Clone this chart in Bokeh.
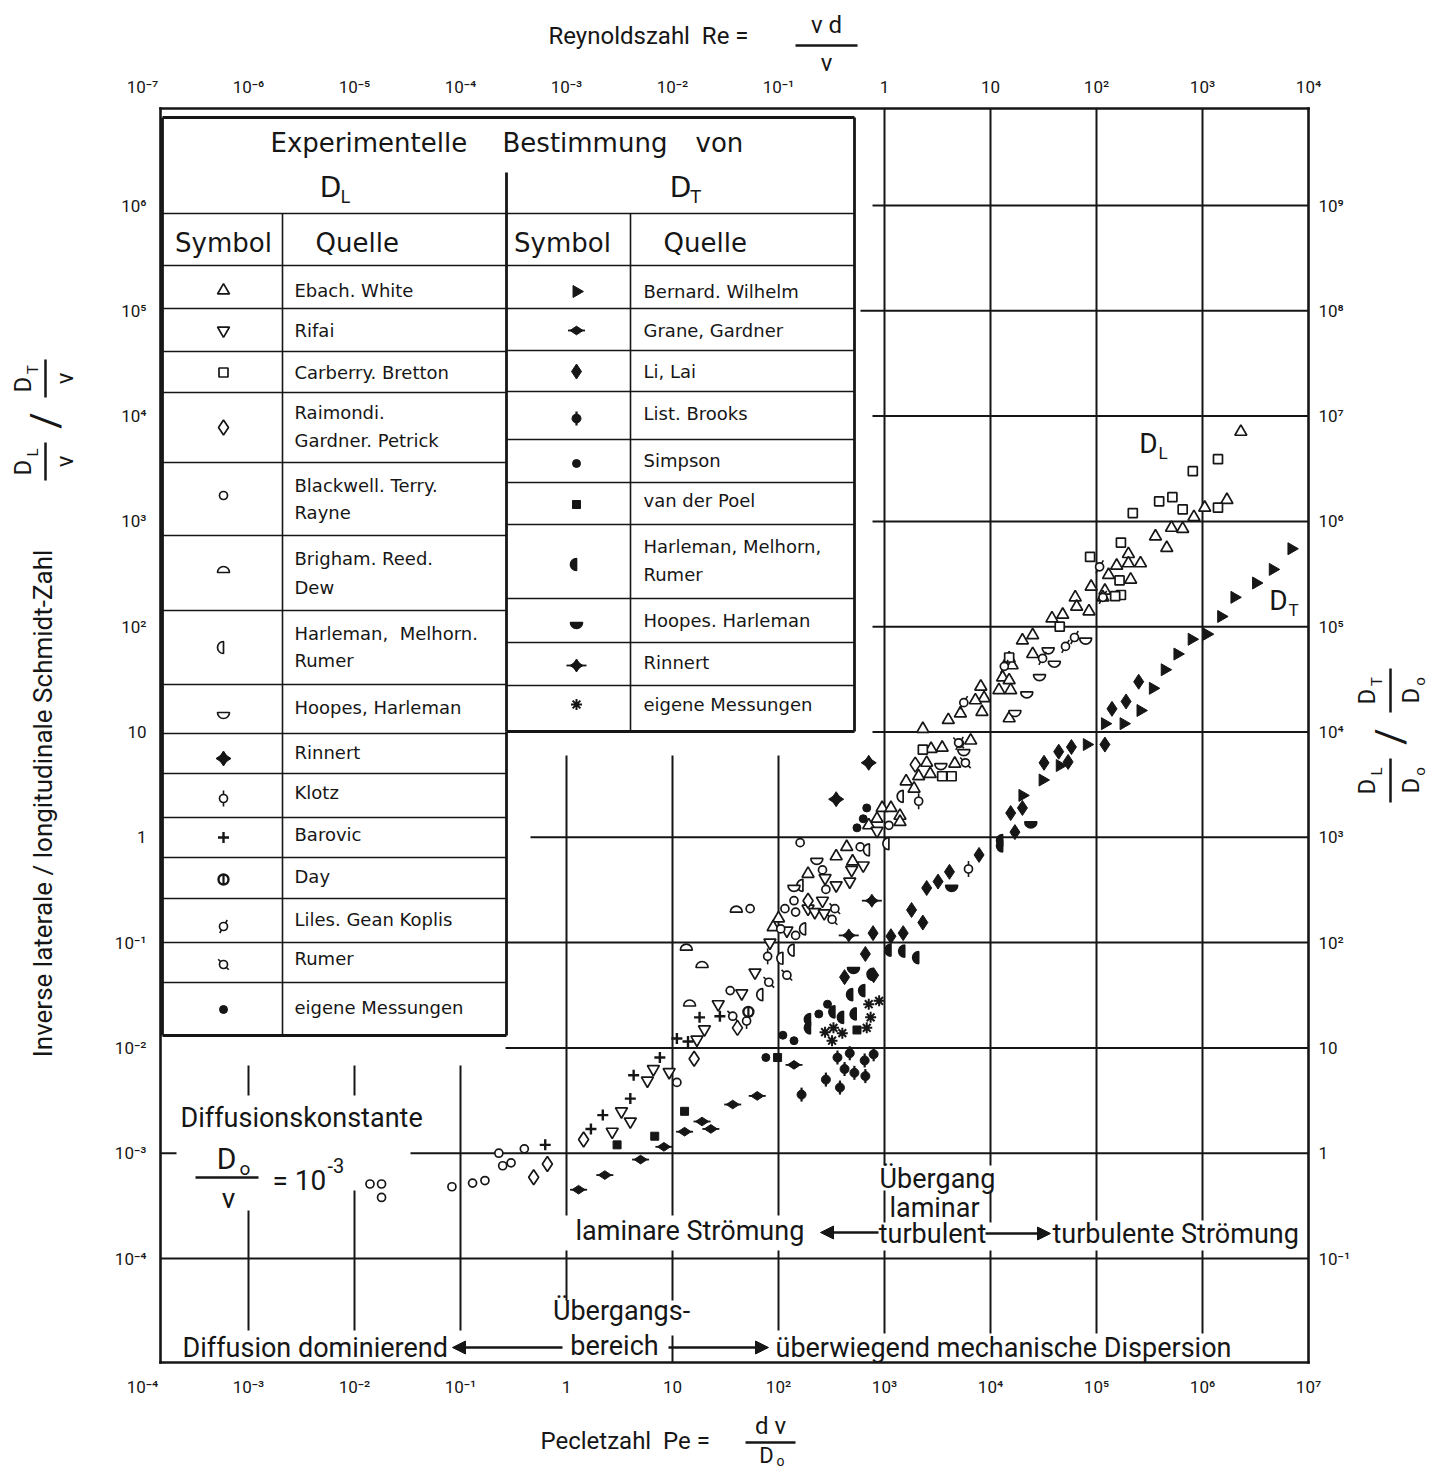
import numpy as np
from bokeh.plotting import figure
from bokeh.models import Range1d, LogAxis, FixedTicker, Label, Arrow, NormalHead
from bokeh.embed import file_html
from bokeh.resources import INLINE

# ---------------- data: Peclet number Pe, ratio D/nu ----------------
# D_L series
EBACH_PE = [2.3e6, 1.7e6, 1.05e6, 8.3e5, 5.1e5, 6.5e5, 3.6e5, 4.6e5, 2.0e5, 1.55e5, 2.0e5, 2.6e5,
            1.3e5, 2.1e5, 1.2e5, 8.9e4, 1.15e5, 6.3e4, 6.5e4, 8.5e4, 4.8e4, 3.8e4, 2.5e4, 2.0e4,
            2.5e4, 1.5e4, 1.6e4, 1.3e4, 1.5e4, 1.2e4, 1.55e4, 8.1e3, 8.7e3, 7.2e3, 8.3e3, 5.2e3,
            4.0e3, 2.3e3, 1.5e4, 3.5e3, 2.75e3, 6.5e3, 2.5e3, 4.6e3, 1.6e3, 2.1e3, 2.7e3, 1.9e3,
            9.5e2, 1.15e3, 1.4e3, 1.4e3, 8.5e2, 7.1e2, 4.4e2, 3.5e2, 5.0e2, 1.9e2, 1.0e2, 89]
EBACH_Y = [7.1e3, 1.6e3, 1.35e3, 1.1e3, 8.7e2, 8.5e2, 7.2e2, 5.6e2, 4.9e2, 3.8e2, 4.0e2, 4.0e2,
           3.1e2, 2.8e2, 2.2e2, 2.4e2, 1.9e2, 1.9e2, 1.55e2, 1.4e2, 1.3e2, 1.2e2, 83, 74,
           55, 50, 43, 33, 31, 25, 25, 27, 21, 20, 15.5, 15,
           13, 10.7, 13.5, 7.1, 6.9, 8.3, 5.1, 5.0, 3.4, 3.8, 4.0, 2.9,
           1.9, 1.9, 1.6, 1.4, 1.5, 1.3, 0.81, 0.66, 0.59, 0.45, 0.17, 0.14]
RIFAI_PE = [8.5e2, 6.3e2, 4.9e2, 4.7e2, 2.75e2, 3.5e2, 1.9e2, 2.6e2, 2.2e2, 2.7e2, 1.2e2, 83,
            60, 45, 27, 20, 17, 6.6, 5.8, 9.3, 3.3, 4.0, 2.7]
RIFAI_Y = [1.15, 0.54, 0.49, 0.38, 0.41, 0.35, 0.21, 0.25, 0.195, 0.19, 0.13, 0.10,
           0.052, 0.033, 0.026, 0.015, 0.012, 6.3e-3, 4.9e-3, 5.9e-3, 2.5e-3, 2.0e-3, 1.6e-3]
CARBERRY_PE = [1.4e6, 8.1e5, 3.9e5, 5.2e5, 6.5e5, 1.4e6, 2.2e5, 1.7e5, 8.7e4, 1.65e5, 1.7e5,
               1.5e5, 4.5e4, 1.5e4, 2.3e3, 3.5e3, 4.3e3]
CARBERRY_Y = [3.9e3, 3.0e3, 1.55e3, 1.7e3, 1.3e3, 1.35e3, 1.2e3, 6.3e2, 4.6e2, 2.75e2, 2.0e2,
              1.95e2, 1.0e2, 51, 6.8, 3.8, 3.8]
RAIMONDI_PE = [1.95e3, 1.9e2, 41, 16, 0.49, 0.66, 1.45]
RAIMONDI_Y = [4.9, 0.25, 0.0155, 7.9e-3, 5.9e-4, 7.9e-4, 1.35e-3]
BLACKWELL_PE = [1.6e2, 5.9e2, 2.6e2, 2.8e2, 1.4e2, 1.15e2, 1.45e2, 1.05e2, 1.45e2, 54, 35, 1.1e3,
                11, 0.083, 0.13, 0.17, 0.25, 0.30, 0.23, 0.40, 0.014, 0.018, 0.018]
BLACKWELL_Y = [0.89, 0.81, 0.49, 0.32, 0.25, 0.21, 0.195, 0.135, 0.117, 0.21, 0.035, 1.3,
               4.7e-3, 4.8e-4, 5.2e-4, 5.5e-4, 7.6e-4, 8.1e-4, 1.0e-3, 1.1e-3, 5.1e-4, 5.1e-4, 3.8e-4]
BRIGHAM_PE = [40, 13.5, 19, 14.5]
BRIGHAM_Y = [0.195, 0.085, 0.058, 0.025]
HARLEMAN_L_PE = [1.5e3, 1.1e3, 7.2e2, 1.8e2, 1.1e2, 1.4e2, 71, 1.7e2]
HARLEMAN_L_Y = [2.45, 0.87, 0.76, 0.135, 0.071, 0.085, 0.032, 0.35]
HOOPES_L_PE = [3.5e4, 4.0e4, 2.9e4, 2.2e4, 1.7e4, 7.9e4, 5.6e3, 3.4e3, 2.3e2, 1.4e2]
HOOPES_L_Y = [63, 47, 35, 24, 16, 78, 6.8, 5.0, 0.63, 0.35]
RINNERT_L_PE = [7.1e2, 3.5e2]
RINNERT_L_Y = [5.1, 2.3]
KLOTZ_PE = [2.1e3, 79, 50, 6.2e3]
KLOTZ_Y = [2.2, 0.074, 0.018, 0.50]
BAROVIC_PE = [7.6, 4.3, 4.0, 2.2, 1.7, 11, 14, 18, 28, 0.63]
BAROVIC_Y = [8.1e-3, 5.5e-3, 3.3e-3, 2.3e-3, 1.7e-3, 0.0123, 0.0115, 0.0195, 0.020, 1.2e-3]
DAY_PE = [52]
DAY_Y = [0.022]
LILES_PE = [5.1e4, 6.2e4, 3.1e4, 1.35e4, 5.6e3, 1.07e5, 5.1e3, 1.15e5]
LILES_Y = [65, 79, 50, 42, 19, 3.7e2, 7.8, 1.9e2]
RUMER_PE = [5.0e3, 5.8e3, 3.4e2, 3.2e2, 1.2e2, 81, 37]
RUMER_Y = [7.9, 5.1, 0.21, 0.166, 0.049, 0.042, 0.020]
EIGENE_L_PE = [6.8e2, 6.3e2, 5.5e2]
EIGENE_L_Y = [1.9, 1.5, 1.23]

# D_T series
BERNARD_PE = [6.9e6, 4.6e6, 3.2e6, 2.0e6, 1.5e6, 1.1e6, 7.9e5, 5.8e5, 4.4e5, 3.4e5, 2.6e5, 1.8e5,
              1.2e5, 8.1e4, 4.5e4, 3.1e4, 2.0e4]
BERNARD_Y = [5.5e2, 3.5e2, 2.6e2, 1.9e2, 1.25e2, 85, 76, 55, 39, 26, 16, 12, 12, 7.6, 4.8, 3.5, 2.5]
GRANE_PE = [1.4e2, 63, 37, 19, 23, 13, 1.3, 2.3, 5.0, 8.3]
GRANE_Y = [6.9e-3, 3.5e-3, 2.9e-3, 2.0e-3, 1.7e-3, 1.6e-3, 4.5e-4, 6.2e-4, 8.7e-4, 1.15e-3]
LILAI_PE = [2.5e5, 1.9e5, 1.4e5, 1.2e5, 5.8e4, 4.4e4, 3.2e4, 5.4e4, 1.55e4, 2.0e4, 1.7e4, 7.8e3,
            7.8e2, 1.15e3, 1.5e3, 1.8e3, 2.3e3, 2.5e3, 3.2e3, 4.1e3, 6.6e2, 4.2e2, 7.9e2]
LILAI_Y = [30, 19.5, 16.6, 7.6, 7.2, 6.5, 5.1, 5.2, 1.7, 1.9, 1.12, 0.68,
           0.123, 0.115, 0.123, 0.204, 0.155, 0.33, 0.38, 0.47, 0.078, 0.047, 0.049]
LIST_PE = [3.6e2, 4.7e2, 6.5e2, 7.9e2, 4.2e2, 5.2e2, 6.6e2, 2.8e2, 3.8e2, 1.65e2]
LIST_Y = [8.1e-3, 8.9e-3, 7.6e-3, 8.7e-3, 6.3e-3, 5.8e-3, 5.4e-3, 5.0e-3, 4.2e-3, 3.6e-3]
SIMPSON_PE = [76, 1.1e2, 1.4e2, 2.9e2, 2.4e2]
SIMPSON_Y = [8.1e-3, 0.0132, 0.0117, 0.026, 0.021]
POEL_PE = [98, 13, 5.5e2, 3.0, 6.8]
POEL_Y = [8.1e-3, 2.5e-3, 0.0148, 1.2e-3, 1.45e-3]
HARLEMAN_T_PE = [1.15e3, 1.55e3, 2.1e3, 7.8e2, 6.5e2, 5.0e2, 5.4e2, 4.1e2, 3.4e2, 2.0e2, 2.0e2, 1.3e4, 1.3e4]
HARLEMAN_T_Y = [0.085, 0.083, 0.072, 0.050, 0.035, 0.032, 0.021, 0.0195, 0.022, 0.0186, 0.0155, 0.83, 0.93]
HOOPES_T_PE = [4.3e3, 5.1e2, 2.4e4]
HOOPES_T_Y = [0.35, 0.058, 1.4]
RINNERT_T_PE = [7.6e2, 4.6e2]
RINNERT_T_Y = [0.25, 0.117]
EIGENE_T_PE = [8.9e2, 7.1e2, 7.4e2, 6.8e2, 3.3e2, 4.0e2, 2.75e2, 3.2e2]
EIGENE_T_Y = [0.028, 0.026, 0.0195, 0.0155, 0.0155, 0.0138, 0.0141, 0.0117]

# axis decades
X_DECADES = list(range(-4, 8))     # Pe 10^-4 .. 10^7
Y_DECADES = list(range(-4, 7))     # D/nu 10^-4 .. 10^6
SCHMIDT_EXP = 3                    # Re = Pe / 10^3, D/Do = (D/nu) * 10^3

# legend table contents
DL_ROWS = [
    (["Ebach. White"], "tri_up"),
    (["Rifai"], "tri_down"),
    (["Carberry. Bretton"], "square"),
    (["Raimondi.", "Gardner. Petrick"], "diamond"),
    (["Blackwell. Terry.", "Rayne"], "circle"),
    (["Brigham. Reed.", "Dew"], "dome"),
    (["Harleman,\u00a0\u00a0Melhorn.", "Rumer"], "harl"),
    (["Hoopes, Harleman"], "bowl"),
    (["Rinnert"], "star4"),
    (["Klotz"], "klotz"),
    (["Barovic"], "plus"),
    (["Day"], "day"),
    (["Liles. Gean Koplis"], "liles"),
    (["Rumer"], "rumer"),
    (["eigene Messungen"], "dot"),
]
DT_ROWS = [
    (["Bernard. Wilhelm"], "tri_right"),
    (["Grane, Gardner"], "grane"),
    (["Li, Lai"], "lilai"),
    (["List. Brooks"], "list"),
    (["Simpson"], "dot"),
    (["van der Poel"], "poel"),
    (["Harleman, Melhorn,", "Rumer"], "harl_f"),
    (["Hoopes. Harleman"], "hoopes_f"),
    (["Rinnert"], "rinnert_t"),
    (["eigene Messungen"], "asterisk"),
]

SERIES = [
    (EBACH_PE, EBACH_Y, "tri_up"), (RIFAI_PE, RIFAI_Y, "tri_down"),
    (CARBERRY_PE, CARBERRY_Y, "square"), (RAIMONDI_PE, RAIMONDI_Y, "diamond"),
    (BLACKWELL_PE, BLACKWELL_Y, "circle"), (BRIGHAM_PE, BRIGHAM_Y, "dome"),
    (HARLEMAN_L_PE, HARLEMAN_L_Y, "harl"), (HOOPES_L_PE, HOOPES_L_Y, "bowl"),
    (RINNERT_L_PE, RINNERT_L_Y, "star4"), (KLOTZ_PE, KLOTZ_Y, "klotz"),
    (BAROVIC_PE, BAROVIC_Y, "plus"), (DAY_PE, DAY_Y, "day"),
    (LILES_PE, LILES_Y, "liles"), (RUMER_PE, RUMER_Y, "rumer"),
    (EIGENE_L_PE, EIGENE_L_Y, "dot"),
    (BERNARD_PE, BERNARD_Y, "tri_right"), (GRANE_PE, GRANE_Y, "grane"),
    (LILAI_PE, LILAI_Y, "lilai"), (LIST_PE, LIST_Y, "list"),
    (SIMPSON_PE, SIMPSON_Y, "dot"), (POEL_PE, POEL_Y, "poel"),
    (HARLEMAN_T_PE, HARLEMAN_T_Y, "harl_f"), (HOOPES_T_PE, HOOPES_T_Y, "hoopes_f"),
    (RINNERT_T_PE, RINNERT_T_Y, "rinnert_t"), (EIGENE_T_PE, EIGENE_T_Y, "asterisk"),
]

# ---------------- layout helpers (pixel -> data) ----------------
INK = "#161616"
W, H = 1434, 1472
PX_DEC = 106.0
PY_DEC = 105.3


def X(px):
    return 10 ** ((px - 248.0) / PX_DEC - 3.0)


def Y(py):
    return 10 ** (6.0 - (py - 205.0) / PY_DEC)


BOX_L, BOX_R, BOX_T, BOX_B = 160, 1308, 108, 1362

p = figure(frame_width=W, frame_height=H, x_axis_type="log", y_axis_type="log",
           x_range=Range1d(X(0), X(W)), y_range=Range1d(Y(H), Y(0)),
           output_backend="svg", toolbar_location=None, min_border=0)
p.xgrid.visible = False
p.ygrid.visible = False
p.outline_line_color = None
p.background_fill_color = "white"
p.border_fill_color = "white"

SUP = str.maketrans("-0123456789", "\u207b\u2070\u00b9\u00b2\u00b3\u2074\u2075\u2076\u2077\u2078\u2079")


def pow_label(k):
    if k == 0:
        return "1"
    if k == 1:
        return "10"
    return "10" + str(k).translate(SUP)


def style_axis(ax, standoff):
    ax.axis_line_color = None
    ax.major_tick_line_color = None
    ax.minor_tick_line_color = None
    ax.major_label_text_font = "Roboto"
    ax.major_label_text_font_size = "17px"
    ax.major_label_text_color = INK
    ax.major_label_standoff = standoff


xt = [10.0 ** k for k in X_DECADES]
yt = [10.0 ** k for k in Y_DECADES]

bx = p.xaxis[0]
bx.ticker = FixedTicker(ticks=xt, minor_ticks=[])
bx.major_label_overrides = {10.0 ** k: pow_label(k) for k in X_DECADES}
bx.fixed_location = Y(BOX_B)
style_axis(bx, 8)

ly = p.yaxis[0]
ly.ticker = FixedTicker(ticks=yt, minor_ticks=[])
ly.major_label_overrides = {10.0 ** k: pow_label(k) for k in Y_DECADES}
ly.fixed_location = X(BOX_L)
style_axis(ly, 8)

tx = LogAxis(ticker=FixedTicker(ticks=xt, minor_ticks=[]), fixed_location=Y(BOX_T),
             major_label_overrides={10.0 ** k: pow_label(k - SCHMIDT_EXP) for k in X_DECADES})
style_axis(tx, 6)
p.add_layout(tx, "above")

ry = LogAxis(ticker=FixedTicker(ticks=yt, minor_ticks=[]), fixed_location=X(BOX_R),
             major_label_overrides={10.0 ** k: pow_label(k + SCHMIDT_EXP) for k in Y_DECADES})
style_axis(ry, 4)
p.add_layout(ry, "right")


def lab(px, py, text, size, font="Roboto", align="left", baseline="middle", angle=0.0, style="normal"):
    p.add_layout(Label(x=X(px), y=Y(py), text=text, text_font=font, text_font_size=f"{size}px",
                       text_align=align, text_baseline=baseline, angle=angle,
                       text_color=INK, text_font_style=style))


# ---------------- grid segments (partial, as in the original) ----------------
V_SEGS = {
    -3: [(1065, 1095), (1210, 1330)],
    -2: [(1065, 1095), (1190, 1330)],
    -1: [(1065, 1330)],
    0: [(755, 1215), (1250, 1300)],
    1: [(755, 1215), (1250, 1300), (1335, 1362)],
    2: [(755, 1215), (1250, 1330)],
    3: [(108, 1165), (1190, 1222), (1250, 1333)],
    4: [(108, 1165), (1190, 1222), (1250, 1333)],
    5: [(108, 1220), (1250, 1333)],
    6: [(108, 1220), (1250, 1333)],
}
H_SEGS = {6: [(872, 1308)], 5: [(860, 1308)], 4: [(872, 1308)], 3: [(872, 1308)],
          2: [(872, 1308)], 1: [(872, 1308)], 0: [(530, 1308)], -1: [(505, 1308)],
          -2: [(505, 1308)], -3: [(160, 176), (410, 1308)], -4: [(160, 1308)]}
gx0, gy0, gx1, gy1 = [], [], [], []
for k, segs in V_SEGS.items():
    for a, b in segs:
        gx0.append(10.0 ** k); gx1.append(10.0 ** k); gy0.append(Y(a)); gy1.append(Y(b))
for k, segs in H_SEGS.items():
    for a, b in segs:
        gx0.append(X(a)); gx1.append(X(b)); gy0.append(10.0 ** k); gy1.append(10.0 ** k)
p.segment(gx0, gy0, gx1, gy1, line_color=INK, line_width=2)

# plot box
p.segment([X(BOX_L), X(BOX_R), X(BOX_R), X(BOX_L)], [Y(BOX_T), Y(BOX_T), Y(BOX_B), Y(BOX_B)],
          [X(BOX_R), X(BOX_R), X(BOX_L), X(BOX_L)], [Y(BOX_T), Y(BOX_B), Y(BOX_B), Y(BOX_T)],
          line_color=INK, line_width=2.6, line_cap="square")


# ---------------- markers ----------------
def mk(kind, xs, ys, scale=1.0):
    lw = 1.7
    s = scale
    if kind == "tri_up":
        p.scatter(xs, ys, marker="triangle", size=12 * s, fill_color="white", line_color=INK, line_width=lw)
    elif kind == "tri_down":
        p.scatter(xs, ys, marker="inverted_triangle", size=12 * s, fill_color="white", line_color=INK, line_width=lw)
    elif kind == "square":
        p.scatter(xs, ys, marker="square", size=9 * s, fill_color="white", line_color=INK, line_width=lw)
    elif kind == "diamond":
        p.scatter(xs, ys, marker="diamond", size=15 * s, fill_color="white", line_color=INK, line_width=lw)
    elif kind == "circle":
        p.scatter(xs, ys, marker="circle", size=8 * s, fill_color="white", line_color=INK, line_width=lw)
    elif kind in ("dome", "bowl", "harl", "harl_f", "hoopes_f"):
        ang = {"dome": (0, np.pi), "bowl": (np.pi, 2 * np.pi), "harl": (np.pi / 2, 3 * np.pi / 2),
               "harl_f": (np.pi / 2, 3 * np.pi / 2), "hoopes_f": (np.pi, 2 * np.pi)}[kind]
        fill = INK if kind.endswith("_f") else "white"
        p.wedge(x=xs, y=ys, radius=6 * s, radius_units="screen", start_angle=ang[0], end_angle=ang[1],
                fill_color=fill, line_color=INK, line_width=lw)
    elif kind in ("star4", "rinnert_t"):
        sz = 15 if kind == "star4" else 13
        p.scatter(xs, ys, marker="diamond", size=sz * s, fill_color=INK, line_color=INK, line_width=1)
        p.scatter(xs, ys, marker="diamond", angle=np.pi / 2, size=sz * s, fill_color=INK, line_color=INK, line_width=1)
        if kind == "rinnert_t":
            p.scatter(xs, ys, marker="dash", size=20 * s, line_color=INK, line_width=1.8)
    elif kind == "klotz":
        p.scatter(xs, ys, marker="dash", angle=np.pi / 2, size=16 * s, line_color=INK, line_width=1.6)
        p.scatter(xs, ys, marker="circle", size=8 * s, fill_color="white", line_color=INK, line_width=lw)
    elif kind == "plus":
        p.scatter(xs, ys, marker="cross", size=11 * s, line_color=INK, line_width=2.4)
    elif kind == "day":
        p.scatter(xs, ys, marker="circle", size=10 * s, fill_color="white", line_color=INK, line_width=2.4)
        p.scatter(xs, ys, marker="dash", angle=np.pi / 2, size=9 * s, line_color=INK, line_width=2.2)
    elif kind == "liles":
        p.scatter(xs, ys, marker="dash", angle=np.pi / 3, size=15 * s, line_color=INK, line_width=1.6)
        p.scatter(xs, ys, marker="circle", size=8 * s, fill_color="white", line_color=INK, line_width=lw)
    elif kind == "rumer":
        p.scatter(xs, ys, marker="dash", angle=-np.pi / 4, size=15 * s, line_color=INK, line_width=1.6)
        p.scatter(xs, ys, marker="circle", size=8 * s, fill_color="white", line_color=INK, line_width=lw)
    elif kind == "dot":
        p.scatter(xs, ys, marker="circle", size=8 * s, fill_color=INK, line_color=INK, line_width=1)
    elif kind == "tri_right":
        p.scatter(xs, ys, marker="triangle", angle=-np.pi / 2, size=12 * s, fill_color=INK, line_color=INK, line_width=1)
    elif kind == "grane":
        p.scatter(xs, ys, marker="dash", size=17 * s, line_color=INK, line_width=1.8)
        p.scatter(xs, ys, marker="diamond", angle=np.pi / 2, size=13 * s, fill_color=INK, line_color=INK, line_width=1)
    elif kind == "lilai":
        p.scatter(xs, ys, marker="diamond", size=15 * s, fill_color=INK, line_color=INK, line_width=1)
    elif kind == "list":
        p.scatter(xs, ys, marker="dash", angle=np.pi / 2, size=14 * s, line_color=INK, line_width=2.2)
        p.scatter(xs, ys, marker="circle", size=9 * s, fill_color=INK, line_color=INK, line_width=1)
    elif kind == "poel":
        p.scatter(xs, ys, marker="square", size=8 * s, fill_color=INK, line_color=INK, line_width=1)
    elif kind == "asterisk":
        p.scatter(xs, ys, marker="asterisk", size=11 * s, line_color=INK, line_width=2)


for pe, yv, kind in SERIES:
    mk(kind, pe, yv)

# ---------------- legend table ----------------
p.quad(left=[X(162), X(162)], right=[X(854), X(506)], top=[Y(117), Y(731)], bottom=[Y(731), Y(1035)],
       fill_color="white", line_color=None)

DL_TEXT_Y = [[290], [330], [372], [412, 440], [485, 512], [558, 587], [633, 660], [707], [752],
             [792], [834], [876], [919], [958], [1007]]
DL_SYM_Y = [290, 330, 372, 427, 495, 572, 647, 712, 758, 798, 837, 879, 926, 964, 1009]
DL_LINES = [308, 351, 392, 462, 535, 610, 684, 733, 773, 817, 857, 898, 942, 982]
DT_TEXT_Y = [[291], [330], [371], [413], [460], [500], [546, 574], [620], [662], [704]]
DT_SYM_Y = [291, 330, 371, 418, 463, 504, 564, 622, 665, 704]
DT_LINES = [308, 350, 391, 439, 482, 524, 598, 642, 685]

tx0, ty0, tx1, ty1 = [], [], [], []


def hl(y, a, b):
    tx0.append(X(a)); tx1.append(X(b)); ty0.append(Y(y)); ty1.append(Y(y))


def vl(x, a, b):
    tx0.append(X(x)); tx1.append(X(x)); ty0.append(Y(a)); ty1.append(Y(b))


hl(213, 162, 854); hl(265, 162, 854)
for yy in DL_LINES:
    hl(yy, 162, 506)
for yy in DT_LINES:
    hl(yy, 506, 854)
vl(282, 213, 1035); vl(630, 213, 731)
p.segment(tx0, ty0, tx1, ty1, line_color=INK, line_width=1.6)
# outer border of the table
p.segment([X(162), X(162), X(162), X(854), X(506), X(506), X(506)],
          [Y(117), Y(117), Y(1035), Y(117), Y(731), Y(172), Y(731)],
          [X(854), X(162), X(506), X(854), X(854), X(506), X(506)],
          [Y(117), Y(1035), Y(1035), Y(731), Y(731), Y(731), Y(1035)],
          line_color=INK, line_width=2.8)

TF = "DejaVu Sans"
lab(270, 142, "Experimentelle", 26, TF)
lab(502, 142, "Bestimmung", 26, TF)
lab(695, 142, "von", 26, TF)
lab(330, 187, "D", 28, TF, align="center")
lab(340, 196, "L", 17, TF)
lab(680, 187, "D", 28, TF, align="center")
lab(690, 196, "T", 17, TF)
lab(223, 242, "Symbol", 26, TF, align="center")
lab(315, 242, "Quelle", 26, TF)
lab(562, 242, "Symbol", 26, TF, align="center")
lab(663, 242, "Quelle", 26, TF)

for (lines, kind), tys, sy in zip(DL_ROWS, DL_TEXT_Y, DL_SYM_Y):
    for t, ty in zip(lines, tys):
        lab(294, ty, t, 18, TF)
    mk(kind, [X(223)], [Y(sy)])
for (lines, kind), tys, sy in zip(DT_ROWS, DT_TEXT_Y, DT_SYM_Y):
    for t, ty in zip(lines, tys):
        lab(643, ty, t, 18, TF)
    mk(kind, [X(576)], [Y(sy)])

# ---------------- annotations in the plot ----------------
lab(1148, 443, "D", 28, align="center")
lab(1158, 452, "L", 17)
lab(1278, 600, "D", 28, align="center")
lab(1288, 609, "T", 17)

lab(180, 1117, "Diffusionskonstante", 27)
lab(226, 1158, "D", 30, align="center")
lab(239, 1168, "o", 19)
p.segment([X(195)], [Y(1177)], [X(258)], [Y(1177)], line_color=INK, line_width=2.5)
lab(228, 1198, "\u03bd", 28, align="center")
lab(272, 1180, "= 10", 28)
lab(327, 1165, "-3", 20)

lab(937, 1178, "\u00dcbergang", 27, align="center")
lab(934, 1207, "laminar", 27, align="center")
lab(932, 1233, "turbulent", 27, align="center")
lab(575, 1230, "laminare Str\u00f6mung", 27)
lab(1052, 1233, "turbulente Str\u00f6mung", 27)
lab(621, 1310, "\u00dcbergangs-", 27, align="center")
lab(614, 1345, "bereich", 27, align="center")
lab(182, 1347, "Diffusion dominierend", 27)
lab(775, 1347, "\u00fcberwiegend mechanische Dispersion", 27)

for xs, xe, yy in [(878, 820, 1232), (985, 1050, 1233), (562, 452, 1347), (668, 768, 1347)]:
    p.add_layout(Arrow(end=NormalHead(size=13, fill_color=INK, line_color=INK, line_width=1),
                       x_start=X(xs), y_start=Y(yy), x_end=X(xe), y_end=Y(yy),
                       line_color=INK, line_width=2.5))

# ---------------- axis titles ----------------
lab(548, 35, "Reynoldszahl\u00a0\u00a0Re\u00a0=", 24)
lab(826, 24, "v d", 24, align="center")
p.segment([X(795)], [Y(45)], [X(857)], [Y(45)], line_color=INK, line_width=2.5)
lab(826, 62, "\u03bd", 24, align="center")

lab(540, 1440, "Pecletzahl\u00a0\u00a0Pe\u00a0=", 24)
lab(770, 1425, "d v", 24, align="center")
p.segment([X(745)], [Y(1442)], [X(795)], [Y(1442)], line_color=INK, line_width=2.5)
lab(766, 1455, "D", 22, align="center")
lab(776, 1460, "o", 14)

R = np.pi / 2
lab(42, 803, "Inverse laterale / longitudinale Schmidt-Zahl", 26, align="center", angle=R)
# left fraction stack  D_L/nu / D_T/nu
fx0, fy0, fx1, fy1 = [], [], [], []
for yc, sub in [(461, "L"), (378, "T")]:
    lab(22, yc + 6, "D", 24, align="center", angle=R)
    lab(32, yc - 9, sub, 15, align="center", angle=R)
    fx0.append(X(45)); fx1.append(X(45)); fy0.append(Y(yc - 19)); fy1.append(Y(yc + 19))
    lab(64, yc, "\u03bd", 24, align="center", angle=R)
lab(45, 420, "/", 40, align="center", angle=R)
# right fraction stack  D_L/Do / D_T/Do
for yc, sub in [(780, "L"), (690, "T")]:
    lab(1366, yc + 6, "D", 24, align="center", angle=R)
    lab(1376, yc - 9, sub, 15, align="center", angle=R)
    fx0.append(X(1390)); fx1.append(X(1390)); fy0.append(Y(yc - 22)); fy1.append(Y(yc + 22))
    lab(1410, yc + 5, "D", 24, align="center", angle=R)
    lab(1419, yc - 9, "o", 15, align="center", angle=R)
lab(1390, 736, "/", 40, align="center", angle=R)
p.segment(fx0, fy0, fx1, fy1, line_color=INK, line_width=2.5)

open("out.html", "w").write(file_html(p, INLINE))
